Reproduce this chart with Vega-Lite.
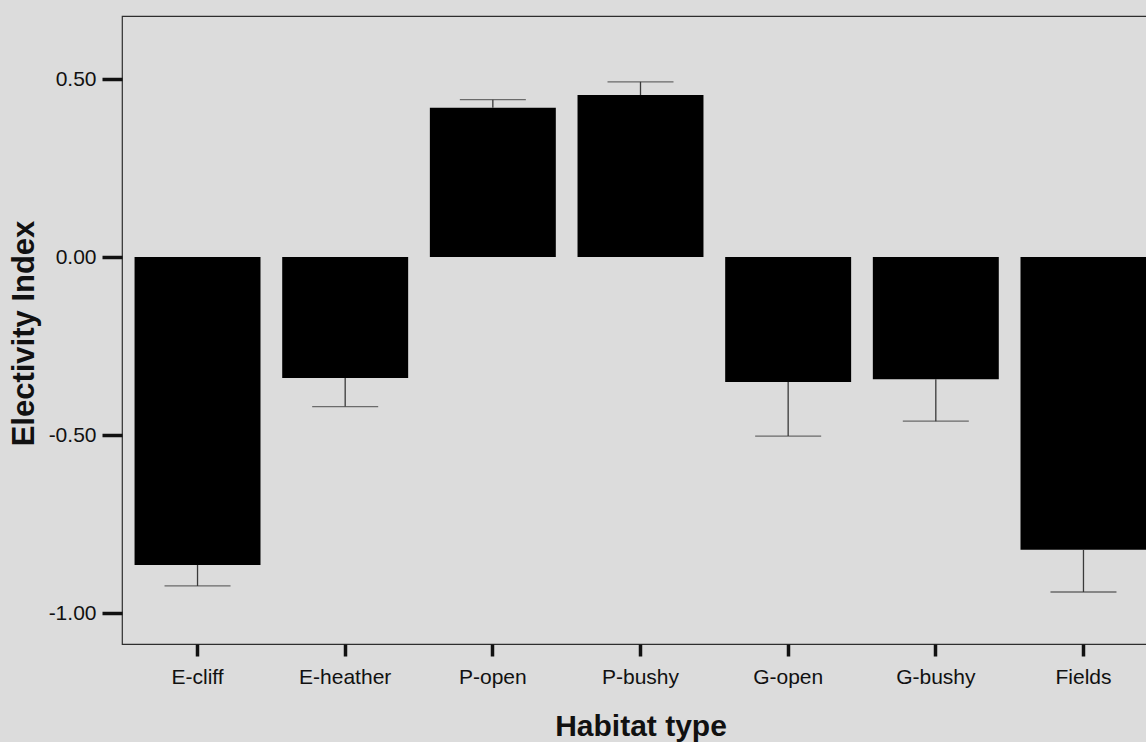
{
  "$schema": "https://vega.github.io/schema/vega-lite/v6.json",
  "width": 1037,
  "height": 628,
  "autosize": "none",
  "padding": {"left": 122, "top": 16, "right": 0, "bottom": 98},
  "background": "#dcdcdc",
  "config": {
    "font": "Liberation Sans",
    "view": {"stroke": "#2e2e2e", "strokeWidth": 1.2},
    "axis": {"grid": false, "domain": false, "labelColor": "#111111", "titleColor": "#111111", "tickColor": "#111111"}
  },
  "data": {
    "values": [
      {"habitat": "E-cliff", "index": -0.865, "err_end": -0.924},
      {"habitat": "E-heather", "index": -0.34, "err_end": -0.42},
      {"habitat": "P-open", "index": 0.419, "err_end": 0.442},
      {"habitat": "P-bushy", "index": 0.455, "err_end": 0.492},
      {"habitat": "G-open", "index": -0.351, "err_end": -0.503},
      {"habitat": "G-bushy", "index": -0.343, "err_end": -0.461},
      {"habitat": "Fields", "index": -0.822, "err_end": -0.941}
    ]
  },
  "encoding": {
    "x": {
      "field": "habitat",
      "type": "nominal",
      "sort": null,
      "scale": {"paddingInner": 0.147, "paddingOuter": 0.085},
      "axis": {
        "title": "Habitat type",
        "titleFontSize": 30,
        "titleFontWeight": "bold",
        "titleBaseline": "alphabetic",
        "titleY": 91,
        "labelAngle": 0,
        "labelFontSize": 21,
        "labelBaseline": "alphabetic",
        "labelPadding": 27,
        "tickSize": 12,
        "tickWidth": 3.5
      }
    }
  },
  "layer": [
    {
      "mark": {"type": "bar", "color": "#000000"},
      "encoding": {
        "y": {
          "field": "index",
          "type": "quantitative",
          "scale": {"domain": [-1.087, 0.677], "nice": false, "zero": false},
          "axis": {
            "title": "Electivity Index",
            "titleFontSize": 31,
            "titleFontWeight": "bold",
            "titleAngle": -90,
            "titleBaseline": "alphabetic",
            "titleAlign": "center",
            "titleX": -89,
            "titleY": 317,
            "values": [-1, -0.5, 0, 0.5],
            "labelExpr": "datum.value < 0 ? '-' + format(-datum.value, '.2f') : format(datum.value, '.2f')",
            "labelFontSize": 21,
            "labelPadding": 6,
            "tickSize": 20,
            "tickWidth": 3.5
          }
        },
        "y2": {"datum": 0}
      }
    },
    {
      "mark": {"type": "rule", "color": "#3a3a3a", "strokeWidth": 1.3},
      "encoding": {
        "y": {"field": "index", "type": "quantitative"},
        "y2": {"field": "err_end"}
      }
    },
    {
      "mark": {"type": "tick", "color": "#3a3a3a", "thickness": 1.3, "size": 66},
      "encoding": {
        "y": {"field": "err_end", "type": "quantitative"}
      }
    }
  ]
}
